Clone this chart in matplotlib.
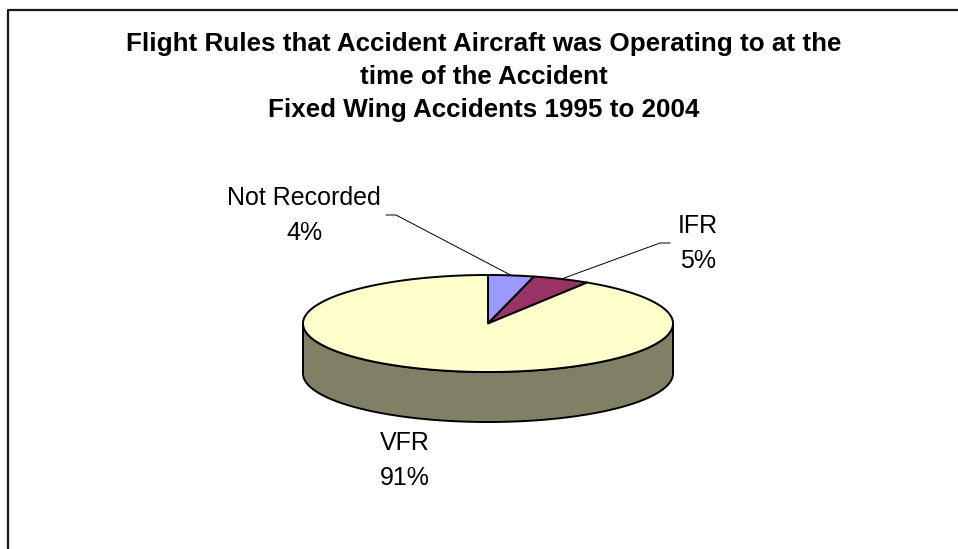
import numpy as np
import matplotlib
matplotlib.use("Agg")
import matplotlib.pyplot as plt
from matplotlib.patches import Polygon
from matplotlib.lines import Line2D

plt.rcParams['font.family'] = ['Liberation Sans', 'DejaVu Sans']

title_lines = [
    "Flight Rules that Accident Aircraft was Operating to at the",
    "time of the Accident",
    "Fixed Wing Accidents 1995 to 2004",
]
categories = ["Not Recorded", "IFR", "VFR"]
shares = [4, 5, 91]
top_colors = ["#9999FF", "#993366", "#FFFFCC"]
side_colors = ["#4D4D80", "#4D1A33", "#808066"]

# pie geometry in pixels (y grows downward)
CX, CY, RX, RY, DEPTH = 488, 323.5, 185, 48.5, 50

# label anchor (centre x, first baseline) and leader line start
label_pos = {"Not Recorded": (304, 205), "IFR": (698, 233), "VFR": (405, 450)}
leader_start = {"Not Recorded": ((386, 215), (396, 215)),
                "IFR": ((670, 243), (660, 243))}


def rim(t):
    return CX + RX * np.sin(t), CY - RY * np.cos(t)


fig = plt.figure(figsize=(9.58, 5.49), dpi=100)
ax = fig.add_axes([0, 0, 1, 1])
ax.set_xlim(0, 958)
ax.set_ylim(549, 0)
ax.axis('off')

# chart area frame (left and top edges fall inside the image)
ax.add_line(Line2D([8, 8, 958], [549, 10, 10], color='#1a1a1a', lw=1.6))

bounds = np.concatenate([[0], np.cumsum(shares)]) / sum(shares) * 2 * np.pi

# side walls, only the front half of the disc is visible
for a0, a1, col in zip(bounds[:-1], bounds[1:], side_colors):
    lo, hi = max(a0, np.pi / 2), min(a1, 1.5 * np.pi)
    if hi <= lo:
        continue
    t = np.linspace(lo, hi, 300)
    x, y = rim(t)
    xs = np.concatenate([x, x[::-1]])
    ys = np.concatenate([y, y[::-1] + DEPTH])
    ax.add_patch(Polygon(np.column_stack([xs, ys]), closed=True,
                         fc=col, ec='black', lw=1.4, joinstyle='round'))

# top faces
for a0, a1, col in zip(bounds[:-1], bounds[1:], top_colors):
    t = np.linspace(a0, a1, max(int((a1 - a0) * 80), 4))
    x, y = rim(t)
    pts = np.column_stack([np.r_[CX, x], np.r_[CY, y]])
    ax.add_patch(Polygon(pts, closed=True, fc=col, ec='black', lw=1.4,
                         joinstyle='round'))

# titles
for i, line in enumerate(title_lines):
    ax.text(484, 51 + 33 * i, line, ha='center', va='baseline',
            fontsize=18.7, fontweight='bold', color='black')

# data labels with leader lines
mids = (bounds[:-1] + bounds[1:]) / 2
for cat, share, mid in zip(categories, shares, mids):
    lx, ly = label_pos[cat]
    ax.text(lx, ly, cat, ha='center', va='baseline', fontsize=18)
    ax.text(lx, ly + 35, f"{share}%", ha='center', va='baseline', fontsize=18)
    if cat in leader_start:
        (x0, y0), (x1, y1) = leader_start[cat]
        ex, ey = rim(mid)
        ax.add_line(Line2D([x0, x1, ex], [y0, y1, ey], color='black', lw=0.7))

fig.savefig("out.png", dpi=100, facecolor='white')
plt.close(fig)
